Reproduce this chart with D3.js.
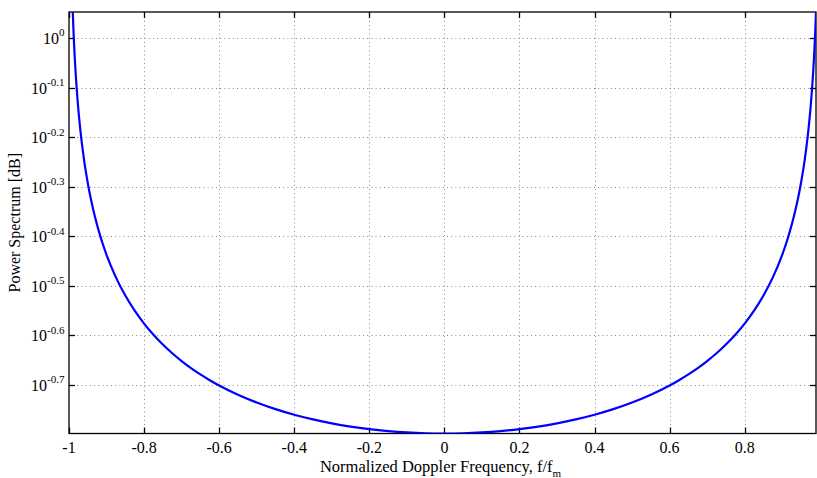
<!DOCTYPE html>
<html><head><meta charset="utf-8">
<script src="https://cdn.jsdelivr.net/npm/d3@7"></script>
<style>body{margin:0;background:#fff}svg{display:block;font-family:"Liberation Serif","Times New Roman",serif}</style>
</head><body>
<svg id="c" width="817" height="478"></svg>
<script>
const freqHalf = [-0.99,-0.9875,-0.985,-0.9825,-0.98,-0.975,-0.97,-0.965,-0.96,-0.955,-0.95,-0.945,-0.94,-0.93,-0.92,-0.91,-0.9,-0.875,-0.85,-0.825,-0.8,-0.775,-0.75,-0.725,-0.7,-0.675,-0.65,-0.625,-0.6,-0.55,-0.5,-0.45,-0.4,-0.35,-0.3,-0.25,-0.2,-0.15,-0.1,-0.05];
const powerHalf = [1.1282,1.0097,0.92237,0.85448,0.79977,0.71627,0.65469,0.60688,0.56841,0.53658,0.50970,0.48661,0.46650,0.43301,0.40609,0.38387,0.36513,0.32875,0.30213,0.28163,0.26526,0.25184,0.24062,0.23108,0.22286,0.21571,0.20943,0.20388,0.19894,0.19057,0.18378,0.17822,0.17365,0.16990,0.16684,0.16437,0.16244,0.16098,0.15996,0.15935];
const freqCenter = [0];
const powerCenter = [0.159155];
const xTicks = [-1,-0.8,-0.6,-0.4,-0.2,0,0.2,0.4,0.6,0.8];
const yTickExps = [0,-0.1,-0.2,-0.3,-0.4,-0.5,-0.6,-0.7];
const xDomain = [-1, 0.99];

const freq = freqHalf.concat(freqCenter, freqHalf.slice().reverse().map(v => -v));
const power = powerHalf.concat(powerCenter, powerHalf.slice().reverse());
const data = freq.map((f,i) => ({f, p: power[i]}));

const L = 69, R = 816, T = 12, B = 433.5;
const svg = d3.select("#c");
const x = d3.scaleLinear().domain(xDomain).range([L, R]);
const y = d3.scaleLog().domain([d3.min(power), d3.max(power)]).range([B, T]);

svg.append("defs").append("clipPath").attr("id","clip")
  .append("rect").attr("x",L).attr("y",T).attr("width",R-L).attr("height",B-T);

// grid
const grid = svg.append("g").attr("stroke","#888").attr("stroke-width",1).attr("stroke-dasharray","1,3.2");
xTicks.forEach(t => {
  if (x(t) > L+1 && x(t) < R-1)
    grid.append("line").attr("x1",Math.round(x(t))+0.5).attr("x2",Math.round(x(t))+0.5).attr("y1",B).attr("y2",T);
});
yTickExps.forEach(e => {
  const yy = Math.round(y(Math.pow(10,e)))+0.5;
  grid.append("line").attr("x1",L).attr("x2",R).attr("y1",yy).attr("y2",yy);
});

// axes box
const ax = svg.append("g").attr("stroke","#000").attr("stroke-width",1.3).attr("fill","none");
ax.append("rect").attr("x",L).attr("y",T).attr("width",R-L).attr("height",B-T);
xTicks.forEach(t => {
  const xx = Math.round(x(t))+0.5;
  ax.append("line").attr("x1",xx).attr("x2",xx).attr("y1",B).attr("y2",B-6);
  ax.append("line").attr("x1",xx).attr("x2",xx).attr("y1",T).attr("y2",T+6);
});
yTickExps.forEach(e => {
  const yy = Math.round(y(Math.pow(10,e)))+0.5;
  ax.append("line").attr("x1",L).attr("x2",L+6).attr("y1",yy).attr("y2",yy);
  ax.append("line").attr("x1",R).attr("x2",R-6).attr("y1",yy).attr("y2",yy);
});

// x tick labels
xTicks.forEach(t => {
  svg.append("text").attr("x",x(t)).attr("y",452.5).attr("text-anchor","middle")
    .attr("font-size",16).attr("fill","#000").text(String(t));
});
// y tick labels
yTickExps.forEach(e => {
  const yy = y(Math.pow(10,e));
  const tx = svg.append("text").attr("x",64.5).attr("y",yy+6).attr("text-anchor","end")
    .attr("font-size",16).attr("fill","#000");
  tx.append("tspan").text("10");
  tx.append("tspan").attr("dy",-7.5).attr("font-size",11).text(String(e));
});

// axis labels
const xl = svg.append("text").attr("x",(L+R)/2 - 2).attr("y",471.5).attr("text-anchor","middle")
  .attr("font-size",16.5).attr("fill","#000");
xl.append("tspan").text("Normalized Doppler Frequency, f/f");
xl.append("tspan").attr("dy",5).attr("font-size",11).text("m");

svg.append("text").attr("transform",`translate(20,${(T+B)/2}) rotate(-90)`).attr("text-anchor","middle")
  .attr("font-size",16).attr("fill","#000").text("Power Spectrum [dB]");

// curve
svg.append("path").datum(data).attr("clip-path","url(#clip)")
  .attr("fill","none").attr("stroke","#0000ff").attr("stroke-width",2.2)
  .attr("d", d3.line().x(d => x(d.f)).y(d => y(d.p)).curve(d3.curveMonotoneX));
</script>
</body></html>
